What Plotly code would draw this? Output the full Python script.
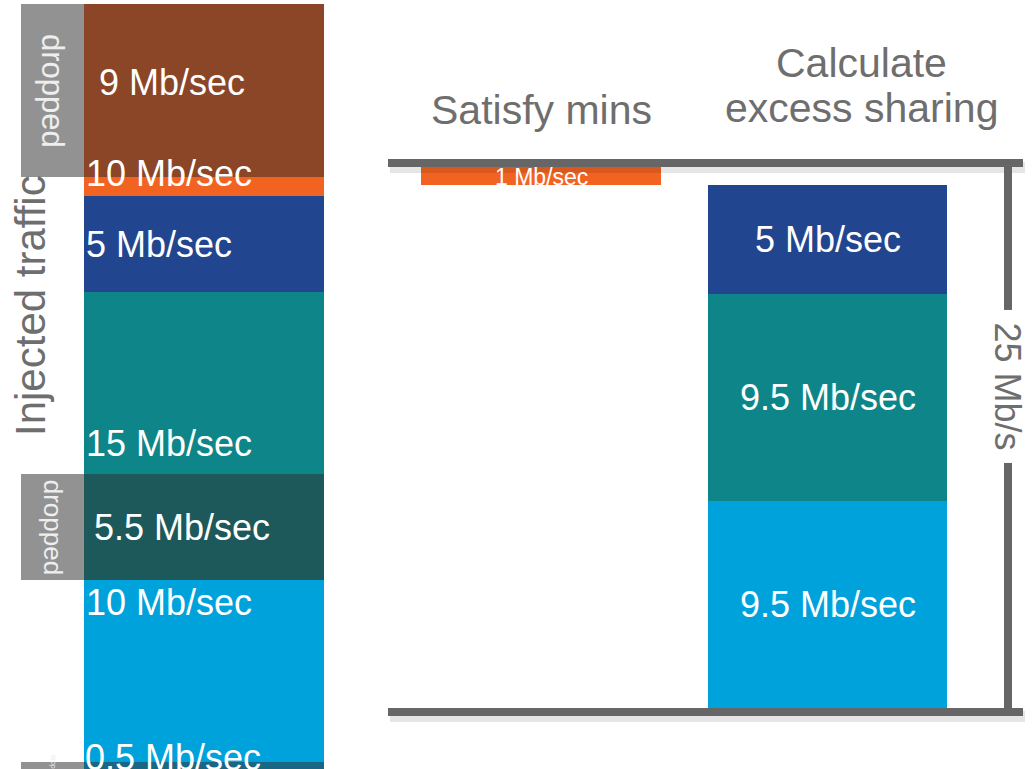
import plotly.graph_objects as go

# ---- data (Mb/sec), flows listed bottom to top ----
injected = [10, 15, 5, 10]      # traffic offered by each flow
dropped = [0.5, 5.5, 0, 9]      # traffic discarded for each flow
capacity = 25                   # link capacity
unit = "Mb/sec"
capacity_label = f"{capacity} Mb/s"
title_mins = "Satisfy mins"
title_excess = ["Calculate", "excess sharing"]
side_title = "Injected traffic"
drop_tag = "dropped"

accepted = [i - d for i, d in zip(injected, dropped)]

# ---- styling / layout ----
W, H = 1034, 769
FONT = "Liberation Sans, Arial, sans-serif"
GREY_TEXT = "#6E6E6E"
LINE = "#666666"
flow_colors = ["#00A2DC", "#0E8689", "#21468F", "#F26322"]
drop_colors = ["#1A6685", "#1D595B", None, "#8B4527"]
drop_at_top = [False, False, False, True]
flow_label_pos = ["top", "bottom", "middle", "bottom"]
flow_label_shift = [0, 8, 0, 0]
drop_label_x = [83, 92, None, 97]
drop_label_shift = [10, 0, 0, 8]
tag_font = [7, 26, None, 31]
in_mins_column = [False, False, False, True]
alloc_label_shift = [0, 0, 0, -3]
alloc_label_size = [36, 36, 36, 23]

LEFT_X, LEFT_W = 204, 240
TAG_X, TAG_W = 52.5, 63
MINS_X, MINS_W = 541, 240
SHARE_X, SHARE_W = 827.5, 239
FRAME_X0, FRAME_X1 = 388, 1023
VLINE_X0, VLINE_X1 = 1004, 1012

LABEL_SIZE = 36


def lbl(v):
    return f"{v:g} {unit}"


fig = go.Figure()
ann = []


def bar(x, h, base, w, color, yaxis):
    fig.add_trace(go.Bar(x=[x], y=[h], base=[base], width=[w],
                         marker=dict(color=color, line=dict(width=0)),
                         yaxis=yaxis, hoverinfo="skip", showlegend=False))


# ---- injected traffic column ----
base = 0.0
for i, v in enumerate(injected):
    lo, hi = base, base + v
    bar(LEFT_X, v, lo, LEFT_W, flow_colors[i], "y")
    vis_lo, vis_hi = lo, hi
    if dropped[i] > 0:
        d = dropped[i]
        d_lo = hi - d if drop_at_top[i] else lo
        bar(LEFT_X, d, d_lo, LEFT_W, drop_colors[i], "y")
        bar(TAG_X, d, d_lo, TAG_W, "#929292", "y")
        if drop_at_top[i]:
            vis_hi = d_lo
        else:
            vis_lo = d_lo + d
        mid = d_lo + d / 2
        ann.append(dict(x=drop_label_x[i], y=mid, xref="x", yref="y",
                        text=lbl(d), xanchor="left", yanchor="middle",
                        yshift=drop_label_shift[i], showarrow=False,
                        font=dict(family=FONT, size=LABEL_SIZE, color="white")))
        ann.append(dict(x=TAG_X, y=mid, xref="x", yref="y", text=drop_tag,
                        textangle=90, showarrow=False, xanchor="center",
                        yanchor="middle",
                        font=dict(family=FONT, size=tag_font[i], color="#EEEEEE")))
    pos = flow_label_pos[i]
    if pos == "top":
        y, ya = vis_hi, "top"
    elif pos == "bottom":
        y, ya = vis_lo, "bottom"
    else:
        y, ya = (vis_lo + vis_hi) / 2, "middle"
    ann.append(dict(x=84, y=y, xref="x", yref="y", text=lbl(v),
                    xanchor="left", yanchor=ya, yshift=flow_label_shift[i],
                    showarrow=False,
                    font=dict(family=FONT, size=LABEL_SIZE, color="white")))
    base = hi

# ---- allocation columns ----
base = 0.0
for i, v in enumerate(accepted):
    x, w = (MINS_X, MINS_W) if in_mins_column[i] else (SHARE_X, SHARE_W)
    bar(x, v, base, w, flow_colors[i], "y2")
    ann.append(dict(x=x, y=base + v / 2, xref="x", yref="y2", text=lbl(v),
                    xanchor="center", yanchor="middle", showarrow=False,
                    yshift=alloc_label_shift[i],
                    font=dict(family=FONT, size=alloc_label_size[i], color="white")))
    base += v

# ---- capacity frame ----
shapes = []
for anchor, y0, y1 in [(capacity, -4, 4), (0, -8, 0)]:
    shapes.append(dict(type="rect", xref="x", yref="y2", x0=FRAME_X0 + 2, x1=FRAME_X1 + 2,
                       ysizemode="pixel", yanchor=anchor, y0=y0 - 6, y1=y1 - 3,
                       fillcolor="rgba(0,0,0,0.10)", line=dict(width=0)))
    shapes.append(dict(type="rect", xref="x", yref="y2", x0=FRAME_X0, x1=FRAME_X1,
                       ysizemode="pixel", yanchor=anchor, y0=y0, y1=y1,
                       fillcolor=LINE, line=dict(width=0)))
shapes.append(dict(type="rect", xref="x", yref="y2", x0=VLINE_X0, x1=VLINE_X1,
                   y0=0, y1=capacity, fillcolor=LINE, line=dict(width=0)))

ann.append(dict(x=(VLINE_X0 + VLINE_X1) / 2, y=capacity * 0.59, xref="x", yref="y2",
                text=capacity_label, textangle=90, showarrow=False,
                xanchor="center", yanchor="middle",
                bgcolor="white", borderpad=12,
                font=dict(family=FONT, size=36, color=GREY_TEXT)))

# ---- titles ----
ann.append(dict(x=MINS_X, y=1 - 110 / H, xref="x", yref="paper", text=title_mins,
                xanchor="center", yanchor="middle", showarrow=False,
                font=dict(family=FONT, size=41, color=GREY_TEXT)))
for txt, py in zip(title_excess, [63, 108]):
    ann.append(dict(x=861, y=1 - py / H, xref="x", yref="paper", text=txt,
                    xanchor="center", yanchor="middle", showarrow=False,
                    font=dict(family=FONT, size=41, color=GREY_TEXT)))
ann.append(dict(x=30, y=1 - 306 / H, xref="x", yref="paper", text=side_title,
                textangle=-90, xanchor="center", yanchor="middle", showarrow=False,
                font=dict(family=FONT, size=42, color=GREY_TEXT)))

fig.update_layout(
    width=W, height=H, margin=dict(l=0, r=0, t=0, b=0, pad=0),
    paper_bgcolor="white", plot_bgcolor="white",
    barmode="overlay", bargap=0, showlegend=False,
    xaxis=dict(range=[0, W], visible=False, fixedrange=True),
    yaxis=dict(range=[0.156, 40.21], visible=False, fixedrange=True),
    yaxis2=dict(range=[-2.798, 32.477], visible=False, overlaying="y",
                anchor="x", fixedrange=True),
    shapes=shapes, annotations=ann,
)

fig.write_html("out.html", config={"displayModeBar": False})
